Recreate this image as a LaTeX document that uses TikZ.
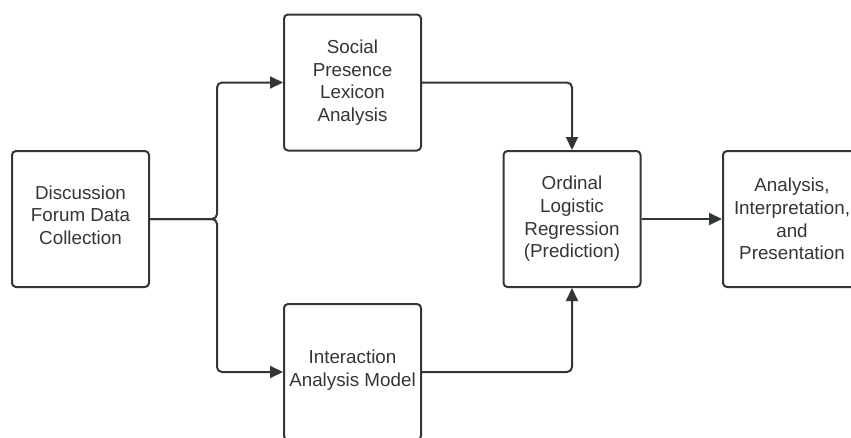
\documentclass[tikz,border=0pt]{standalone}
\usepackage{fontspec}
\setmainfont{Liberation Sans}
\usetikzlibrary{arrows.meta}
\definecolor{ink}{HTML}{333638}
\tikzset{
  box/.style={draw=ink, line width=2pt, rounded corners=4pt, minimum width=137pt, minimum height=136pt,
    inner sep=0pt, align=center, text=ink, font=\fontsize{18.8}{22.6}\selectfont},
  conn/.style={draw=ink, line width=2pt, rounded corners=5pt, -{Triangle[length=13pt,width=12pt]}}
}
\begin{document}
\begin{tikzpicture}[x=1pt,y=-1pt]
\useasboundingbox[fill=white] (0,0) rectangle (851,437);
\node[box] (dfc) at (80.5,219) {Discussion\\Forum Data\\Collection\\[-14.6pt]};
\node[box] (spl) at (352.5,82.5) {Social\\Presence\\Lexicon\\Analysis};
\node[box] (iam) at (352.5,372) {Interaction\\Analysis Model\\[-14.6pt]};
\node[box] (olr) at (572,219) {Ordinal\\Logistic\\Regression\\(Prediction)};
\node[box, minimum width=138pt] (aip) at (792,219) {Analysis,\\Interpretation,\\and\\Presentation};
\coordinate (j) at (217,219);
\draw[conn] (dfc.east) -- (j) |- (spl.west);
\draw[conn] (dfc.east) -- (j) |- (iam.west);
\draw[conn] (spl.east) -| (olr.north);
\draw[conn] (iam.east) -| (olr.south);
\draw[conn] (olr.east) -- (aip.west);
\end{tikzpicture}
\end{document}
